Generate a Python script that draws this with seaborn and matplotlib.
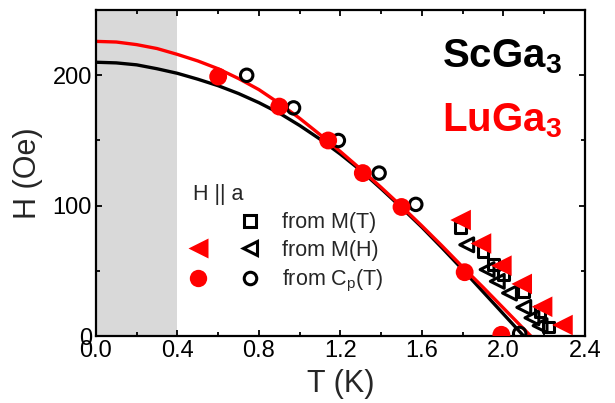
import matplotlib
matplotlib.use("Agg")
import matplotlib.pyplot as plt
import seaborn as sns
from matplotlib.lines import Line2D
from matplotlib.legend_handler import HandlerTuple
from matplotlib.ticker import MultipleLocator

# ── Data ──────────────────────────────────────────────────────
# fit curves
T_fit_lu = [0.0, 0.1, 0.2, 0.3, 0.4, 0.5, 0.6, 0.7, 0.8, 0.9, 1.0, 1.1, 1.2,
            1.3, 1.4, 1.5, 1.6, 1.7, 1.8, 1.9, 2.0, 2.1, 2.135]
H_fit_lu = [226, 225.5, 223.5, 220.5, 216, 211, 205, 197.5, 189, 178.5, 167,
            154.5, 141.5, 128, 114, 99.5, 84.5, 69, 53, 37.5, 21.5, 5.5, 0]

T_fit_sc = [0.0, 0.1, 0.2, 0.3, 0.4, 0.5, 0.6, 0.7, 0.8, 0.9, 1.0, 1.1, 1.2,
            1.3, 1.4, 1.5, 1.6, 1.7, 1.8, 1.9, 2.0, 2.1]
H_fit_sc = [210, 209.5, 208, 205, 201.5, 197, 192, 186, 179, 171, 161.5, 151,
            139.5, 127, 113, 98.5, 83.5, 67.5, 51, 34, 17, 0]

# LuGa3
T_lu_cp = [0.60, 0.90, 1.14, 1.31, 1.50, 1.81, 1.99]
H_lu_cp = [199, 176, 150, 125, 99, 49, 1]
T_lu_mh = [1.79, 1.89, 1.99, 2.09, 2.19, 2.29]
H_lu_mh = [89, 71, 54, 40, 22.5, 8.5]

# ScGa3
T_sc_cp = [0.74, 0.97, 1.19, 1.39, 1.57, 2.08]
H_sc_cp = [200, 175, 150, 125, 101, 2]
T_sc_mt = [1.79, 1.90, 1.95, 2.00, 2.10, 2.18, 2.22]
H_sc_mt = [83, 65, 55, 47, 34, 19, 7]
T_sc_mh = [1.82, 1.92, 1.97, 2.03, 2.10, 2.14, 2.18]
H_sc_mh = [70, 51, 42, 33, 22, 14, 8]

x_ticks = [0.0, 0.4, 0.8, 1.2, 1.6, 2.0, 2.4]
x_ticklabels = ["0.0", "0.4", "0.8", "1.2", "1.6", "2.0", "2.4"]

RED = "#ff0000"

# ── Style ─────────────────────────────────────────────────────
sns.set_theme(style="ticks")
plt.rcParams["font.family"] = ["Liberation Sans", "DejaVu Sans"]
plt.rcParams["mathtext.fontset"] = "custom"
plt.rcParams["mathtext.rm"] = "Liberation Sans"
plt.rcParams["mathtext.it"] = "Liberation Sans:italic"
plt.rcParams["mathtext.bf"] = "Liberation Sans:bold"

fig, ax = plt.subplots(figsize=(6.15, 4.03), dpi=100)
fig.subplots_adjust(left=0.156, right=0.951, bottom=0.166, top=0.975)

ax.axvspan(0, 0.4, color="#d9d9d9", lw=0, zorder=0)

# fit lines
sns.lineplot(x=T_fit_sc, y=H_fit_sc, color="black", lw=2.4, sort=False,
             estimator=None, ax=ax, zorder=2)
sns.lineplot(x=T_fit_lu, y=H_fit_lu, color=RED, lw=2.4, sort=False,
             estimator=None, ax=ax, zorder=2)

# ScGa3 open symbols
sns.scatterplot(x=T_sc_mt, y=H_sc_mt, marker="s", s=60, color="black",
                facecolor="none", edgecolor="black", linewidth=2.2, ax=ax, zorder=3)
sns.scatterplot(x=T_sc_mh, y=H_sc_mh, marker="<", s=100, color="black",
                facecolor="none", edgecolor="black", linewidth=2.2, ax=ax, zorder=3)
sns.scatterplot(x=T_sc_cp, y=H_sc_cp, marker="o", s=80, color="black",
                facecolor="none", edgecolor="black", linewidth=2.2, ax=ax, zorder=3)

# LuGa3 filled symbols
sns.scatterplot(x=T_lu_mh, y=H_lu_mh, marker="<", s=220, color=RED,
                edgecolor="none", ax=ax, zorder=4)
sns.scatterplot(x=T_lu_cp, y=H_lu_cp, marker="o", s=165, color=RED,
                edgecolor="none", ax=ax, zorder=4)

# ── Axes ──────────────────────────────────────────────────────
ax.set_xlim(0, 2.4)
ax.set_ylim(0, 250)
ax.xaxis.set_minor_locator(MultipleLocator(0.2))
ax.yaxis.set_major_locator(MultipleLocator(100))
ax.yaxis.set_minor_locator(MultipleLocator(50))
ax.set_xticks(x_ticks)
ax.set_xticklabels(x_ticklabels)
ax.tick_params(which="both", direction="in", top=True, right=True,
               width=1.3, labelsize=17, colors="black")
ax.tick_params(axis="x", pad=3)
ax.tick_params(axis="y", pad=3)
ax.tick_params(which="major", length=4.5)
ax.tick_params(which="minor", length=3)
for sp in ax.spines.values():
    sp.set_linewidth(1.6)
    sp.set_color("black")
ax.set_xlabel("T (K)", fontsize=22, labelpad=5)
ax.set_ylabel("H (Oe)", fontsize=22, labelpad=7)

# compound labels
ax.text(2.29, 206, r"ScGa$_\mathbf{3}$", fontsize=29, fontweight="bold",
        color="black", ha="right", va="baseline")
ax.text(2.29, 157, r"LuGa$_\mathbf{3}$", fontsize=29, fontweight="bold",
        color=RED, ha="right", va="baseline")

# ── Legend ────────────────────────────────────────────────────
blank = Line2D([], [], ls="none", marker="none")
h_sq = Line2D([], [], ls="none", marker="s", ms=8, mfc="none", mec="black", mew=2.2)
h_tr_k = Line2D([], [], ls="none", marker="<", ms=10, mfc="none", mec="black", mew=2.2)
h_ci_k = Line2D([], [], ls="none", marker="o", ms=9, mfc="none", mec="black", mew=2.2)
h_tr_r = Line2D([], [], ls="none", marker="<", ms=14, mfc=RED, mec="none")
h_ci_r = Line2D([], [], ls="none", marker="o", ms=12.5, mfc=RED, mec="none")

leg = ax.legend(
    handles=[(blank, h_sq), (h_tr_r, h_tr_k), (h_ci_r, h_ci_k)],
    labels=["from M(T)", "from M(H)", r"from C$_\mathrm{p}$(T)"],
    handler_map={tuple: HandlerTuple(ndivide=None, pad=1.9)},
    handlelength=2.9, handletextpad=1.25, labelspacing=0.32,
    title="H || a", title_fontsize=15.5, alignment="left",
    fontsize=15.5, frameon=False, loc="upper left",
    bbox_to_anchor=(0.198, 0.466), borderpad=0, borderaxespad=0,
)

plt.savefig("out.png", dpi=100)
plt.close()
